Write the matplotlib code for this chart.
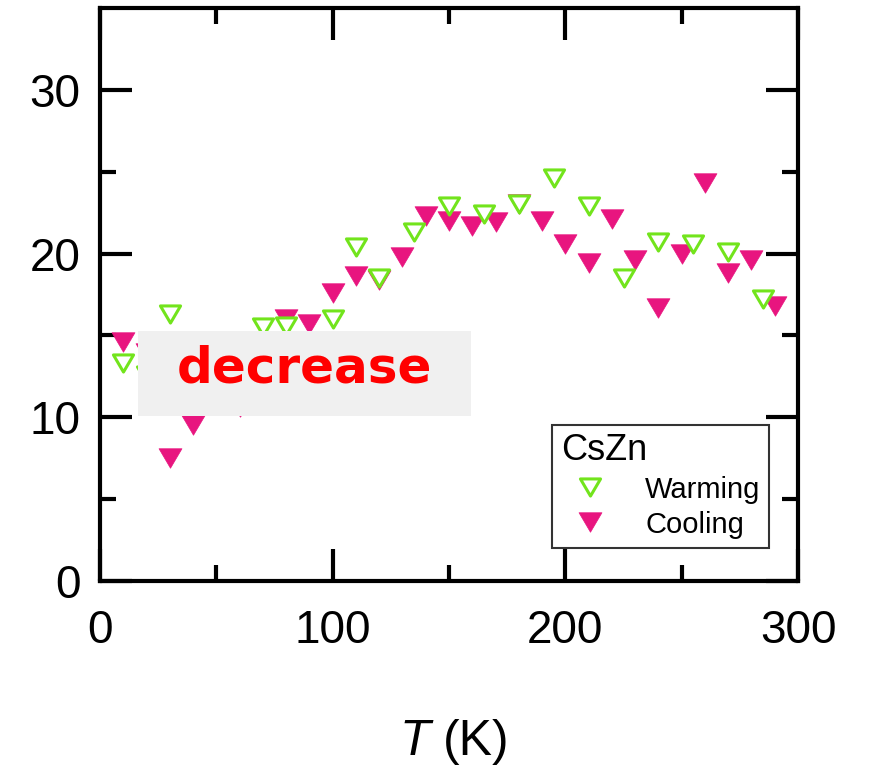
import matplotlib
matplotlib.use("Agg")
import matplotlib.pyplot as plt
from matplotlib.path import Path
from matplotlib.patches import Rectangle

plt.rcParams['font.family'] = ['Liberation Sans', 'DejaVu Sans']

# Data
warming_T = [10, 20, 30, 70, 80, 100, 110, 120, 135, 150, 165, 180, 195, 210,
             225, 240, 255, 270, 285]
warming = [13.3, 12.6, 16.3, 15.5, 15.6, 16.0, 20.4, 18.5, 21.3, 22.9, 22.4,
           23.0, 24.6, 22.9, 18.5, 20.7, 20.6, 20.1, 17.2]

cooling_T = [10, 20, 30, 40, 60, 80, 90, 100, 110, 120, 130, 140, 150, 160,
             170, 180, 190, 200, 210, 220, 230, 240, 250, 260, 270, 280, 290]
cooling = [14.6, 13.9, 7.5, 9.5, 10.6, 16.0, 15.7, 17.6, 18.6, 18.4, 19.8,
           22.3, 22.0, 21.7, 21.9, 23.0, 22.0, 20.6, 19.4, 22.1, 19.6, 16.7,
           20.0, 24.3, 18.8, 19.6, 16.8]

x_ticks = [0, 100, 200, 300]
y_ticks = [0, 10, 20, 30]
legend_title = "CsZn"
series_labels = ["Warming", "Cooling"]
annotation = "decrease"

green = '#72E41C'
pink = '#E8157F'

tri = Path([(-1, 0.85), (1, 0.85), (0, -0.85), (-1, 0.85)],
           [Path.MOVETO, Path.LINETO, Path.LINETO, Path.CLOSEPOLY])

fig = plt.figure(figsize=(8.71, 7.74), dpi=100)
ax = fig.add_axes([100/871, 1-581/774, 698/871, 573/774])

ax.plot(cooling_T, cooling, linestyle='none', marker=tri, ms=16.5,
        mfc=pink, mec=pink, mew=0.5, label=series_labels[1], zorder=3)
ax.plot(warming_T, warming, linestyle='none', marker=tri, ms=14.5,
        mfc='white', mec=green, mew=2.2, label=series_labels[0], zorder=4)

ax.set_xlim(0, 300)
ax.set_ylim(0, 35)
ax.set_xticks(x_ticks)
ax.set_yticks(y_ticks)
ax.set_xticks([50, 150, 250], minor=True)
ax.set_yticks([5, 15, 25], minor=True)
for s in ax.spines.values():
    s.set_linewidth(3)
ax.tick_params(which='both', direction='in', top=True, right=True, width=3,
               labelsize=33)
ax.tick_params(which='major', length=23)
ax.tick_params(which='minor', length=11.5)
ax.tick_params(axis='x', which='major', pad=20)
ax.tick_params(axis='y', which='major', pad=14)

# x-axis label: italic T followed by (K)
fig.text(430/871, 1-742/774, "T", fontsize=36, ha='right', va='center',
         style='italic')
fig.text(443/871, 1-742/774, "(K)", fontsize=36, ha='left', va='center')

# annotation box
ax.add_patch(Rectangle((16.3, 10.08), 143.1, 5.19, facecolor='#F0F0F0',
                       edgecolor='none', zorder=6))
ax.text(88.0, 12.95, annotation, fontsize=36, color='#FF0000',
        fontweight='bold', family='DejaVu Sans', ha='center', va='center',
        zorder=7)

handles, labels = ax.get_legend_handles_labels()
leg = ax.legend(handles[::-1], labels[::-1], title=legend_title,
                loc='lower left', bbox_to_anchor=(0.6476, 0.0576),
                borderaxespad=0, fontsize=21, title_fontsize=26,
                alignment='left', frameon=True, fancybox=False,
                edgecolor='#333333', framealpha=1, handletextpad=0.9,
                labelspacing=0.25, borderpad=0.3, handlelength=2.0,
                handleheight=0.9)
leg.get_frame().set_linewidth(1.5)
leg.set_zorder(8)

fig.savefig("out.png", dpi=100)
